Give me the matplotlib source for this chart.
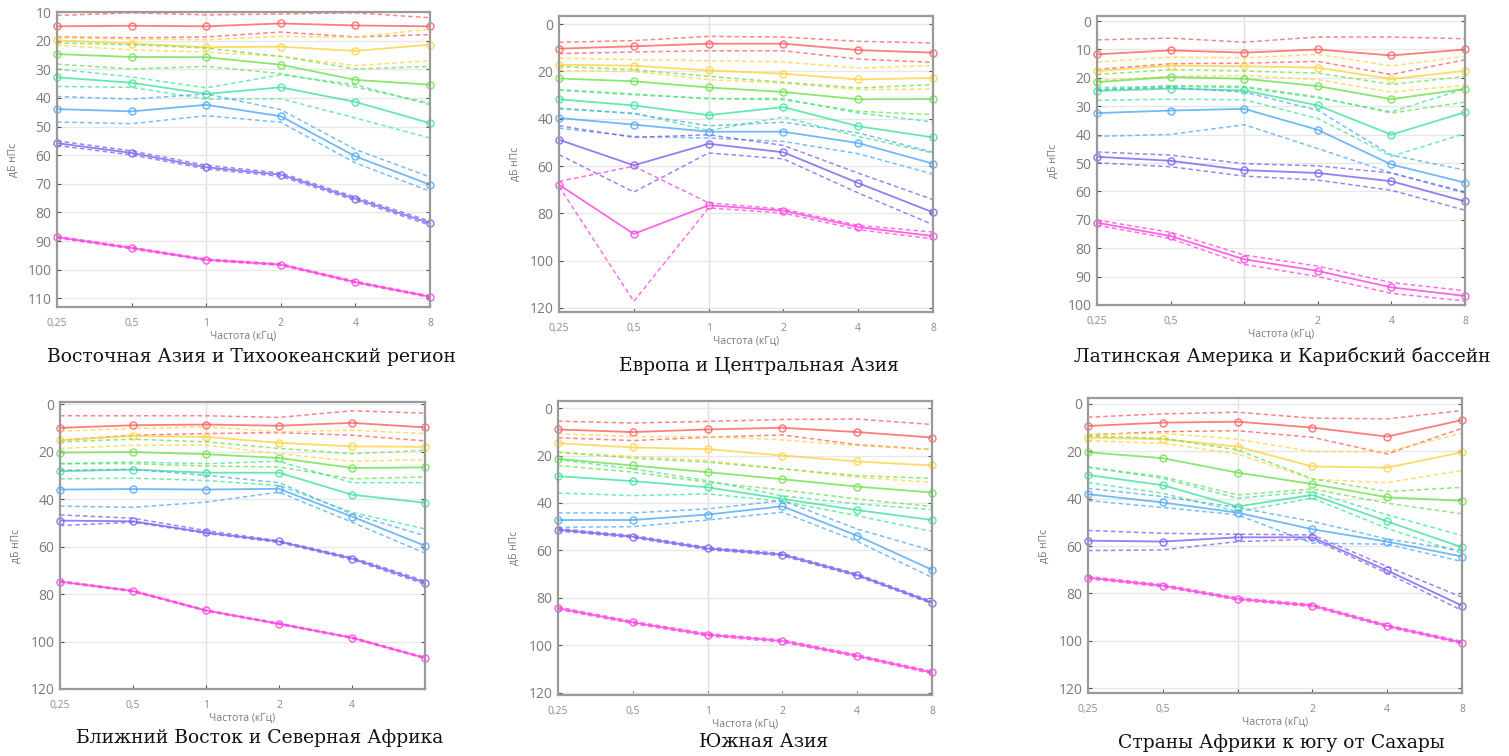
import matplotlib
matplotlib.use("Agg")
import matplotlib.pyplot as plt

freqs = [0.25, 0.5, 1, 2, 4, 8]
freq_labels = ["0,25", "0,5", "1", "2", "4", "8"]
grade_colors = ["#FF5C5C", "#FFD23F", "#6EE04B", "#3FE39A", "#4DA8F5", "#7B5CF0", "#FF40E0"]

# ---- East Asia & Pacific ----
eap_med = [[15.0, 14.8, 15.0, 14.0, 14.7, 15.0],
           [19.9, 21.0, 22.3, 22.1, 23.6, 21.4],
           [24.7, 25.7, 25.8, 28.4, 33.7, 35.4],
           [32.8, 34.7, 38.6, 36.3, 41.4, 48.8],
           [43.9, 44.7, 42.4, 46.4, 60.4, 70.3],
           [55.8, 59.2, 64.2, 66.8, 75.2, 83.7],
           [88.6, 92.4, 96.5, 98.2, 104.3, 109.4]]
eap_lo = [[11.2, 10.3, 11.0, 10.7, 10.3, 12.0],
          [19.0, 19.4, 19.7, 18.5, 18.8, 16.0],
          [20.8, 21.4, 22.6, 25.5, 29.9, 29.0],
          [29.9, 32.7, 36.5, 31.9, 35.4, 42.4],
          [39.5, 40.4, 38.6, 44.1, 58.0, 67.6],
          [55.0, 58.5, 63.5, 66.2, 74.6, 83.0],
          [88.3, 92.1, 96.2, 97.9, 104.0, 109.1]]
eap_hi = [[18.7, 19.0, 18.7, 17.0, 18.7, 17.9],
          [21.6, 23.2, 24.0, 25.5, 28.7, 27.0],
          [28.2, 29.9, 29.0, 31.5, 36.2, 41.8],
          [36.0, 36.3, 40.4, 40.3, 47.0, 54.0],
          [48.4, 49.0, 46.2, 48.5, 62.7, 72.6],
          [56.6, 59.9, 64.8, 67.4, 75.8, 84.4],
          [88.9, 92.7, 96.8, 98.5, 104.6, 109.7]]

# ---- Europe & Central Asia ----
eca_med = [[10.4, 9.4, 8.3, 8.3, 11.0, 12.1],
           [17.2, 17.6, 19.6, 21.0, 23.4, 22.8],
           [23.0, 24.2, 26.8, 28.7, 31.8, 31.7],
           [31.8, 34.4, 38.5, 35.1, 43.2, 47.9],
           [39.7, 42.5, 45.5, 45.5, 50.3, 59.0],
           [48.9, 59.7, 50.6, 54.2, 67.2, 79.6],
           [67.9, 88.7, 76.6, 78.9, 85.8, 89.6]]
eca_lo = [[7.7, 7.0, 5.2, 5.5, 7.3, 8.0],
          [14.4, 15.0, 15.5, 16.0, 18.6, 17.5],
          [17.9, 19.3, 22.1, 24.6, 27.0, 25.6],
          [28.0, 29.9, 31.5, 31.5, 37.6, 41.4],
          [35.5, 37.9, 43.0, 41.5, 46.0, 54.2],
          [43.0, 47.9, 46.8, 51.3, 63.0, 74.2],
          [66.5, 60.1, 75.6, 78.2, 85.1, 87.9]]
eca_hi = [[12.5, 11.8, 11.3, 11.3, 14.8, 16.2],
          [19.6, 20.0, 23.5, 25.0, 27.7, 27.5],
          [27.7, 29.6, 31.5, 32.0, 36.9, 38.3],
          [35.9, 37.6, 45.0, 39.3, 47.5, 54.5],
          [44.0, 47.5, 48.2, 49.6, 54.8, 63.4],
          [55.2, 71.0, 54.5, 57.0, 71.4, 84.8],
          [68.6, 117.2, 77.7, 79.9, 86.9, 90.8]]

# ---- Latin America & Caribbean ----
lac_med = [[11.7, 10.3, 11.1, 10.0, 12.1, 10.0],
           [17.6, 15.7, 15.9, 16.4, 20.4, 17.5],
           [21.5, 19.7, 20.3, 22.9, 27.5, 23.9],
           [24.6, 23.8, 24.4, 29.7, 40.0, 32.1],
           [32.4, 31.5, 30.9, 38.3, 50.5, 56.9],
           [47.8, 49.2, 52.5, 53.5, 56.4, 63.5],
           [71.0, 75.7, 83.9, 88.0, 93.8, 96.8]]
lac_lo = [[6.6, 6.0, 7.4, 5.6, 5.6, 6.2],
          [14.4, 12.7, 12.9, 11.7, 15.8, 12.4],
          [18.8, 17.1, 17.6, 18.3, 22.3, 19.5],
          [23.4, 23.0, 23.4, 27.0, 32.0, 23.8],
          [24.2, 23.4, 25.0, 31.4, 47.2, 52.5],
          [46.1, 47.2, 50.2, 51.0, 53.5, 60.5],
          [70.1, 74.4, 82.4, 86.3, 92.1, 95.0]]
lac_hi = [[17.0, 15.0, 14.8, 14.2, 18.8, 13.6],
          [20.9, 19.5, 19.1, 20.6, 25.0, 22.6],
          [24.2, 22.7, 23.0, 26.7, 32.4, 28.5],
          [27.9, 27.5, 27.7, 34.3, 47.6, 39.6],
          [40.6, 39.9, 36.5, 44.9, 53.5, 60.1],
          [49.9, 51.3, 54.6, 56.0, 59.6, 66.6],
          [71.9, 76.6, 85.7, 90.0, 95.9, 98.6]]

# ---- Middle East & North Africa ----
mena_med = [[9.9, 8.8, 8.5, 9.0, 7.8, 9.7],
            [15.1, 13.3, 13.7, 16.2, 17.7, 17.9],
            [20.3, 20.1, 21.0, 22.6, 26.8, 26.6],
            [28.2, 27.5, 28.8, 28.8, 38.1, 41.5],
            [35.9, 35.7, 35.9, 35.6, 47.3, 59.6],
            [49.0, 49.3, 54.0, 57.8, 65.0, 75.1],
            [74.7, 78.7, 86.9, 92.5, 98.4, 106.9]]
mena_lo = [[4.8, 4.8, 4.8, 5.5, 2.7, 3.7],
           [11.3, 10.2, 9.5, 11.6, 10.9, 12.3],
           [15.8, 14.7, 15.8, 18.6, 20.8, 19.4],
           [25.0, 24.3, 25.0, 24.0, 33.0, 33.0],
           [27.8, 27.4, 29.9, 33.0, 46.2, 55.4],
           [46.6, 48.0, 53.2, 57.5, 64.5, 74.4],
           [74.4, 78.4, 86.6, 92.2, 98.1, 106.6]]
mena_hi = [[15.1, 13.0, 12.3, 11.9, 13.0, 15.4],
           [18.6, 17.2, 17.2, 20.8, 24.0, 23.3],
           [25.0, 25.0, 26.0, 26.4, 31.4, 30.6],
           [31.4, 31.1, 32.1, 34.2, 45.5, 52.5],
           [42.9, 43.4, 41.2, 37.0, 49.7, 62.7],
           [51.1, 49.7, 54.4, 58.2, 65.5, 75.8],
           [75.0, 79.0, 87.2, 92.8, 98.7, 107.2]]

# ---- South Asia ----
sa_med = [[9.0, 10.1, 9.0, 8.3, 10.1, 12.4],
          [14.8, 16.6, 17.3, 20.0, 22.5, 24.2],
          [21.4, 24.2, 27.0, 30.0, 33.1, 35.6],
          [28.7, 30.8, 33.4, 38.3, 43.0, 47.2],
          [47.2, 47.2, 44.9, 41.4, 53.8, 68.2],
          [51.3, 54.2, 59.2, 61.8, 70.4, 82.0],
          [84.4, 90.4, 95.6, 98.2, 104.5, 111.5]]
sa_lo = [[5.5, 6.3, 5.6, 4.8, 4.6, 6.9],
         [10.8, 12.0, 12.0, 13.4, 15.8, 17.5],
         [18.6, 21.1, 22.8, 25.6, 28.5, 29.6],
         [21.7, 25.6, 30.6, 37.0, 40.4, 42.8],
         [44.2, 44.2, 42.5, 39.0, 51.0, 60.1],
         [50.8, 53.7, 58.7, 61.3, 69.9, 81.5],
         [83.9, 89.9, 95.1, 97.7, 104.0, 111.0]]
sa_hi = [[12.5, 13.7, 12.3, 11.3, 15.4, 17.5],
         [18.6, 20.4, 22.1, 25.6, 29.2, 31.3],
         [24.2, 27.0, 31.3, 34.5, 38.3, 41.5],
         [35.8, 36.9, 36.2, 39.3, 45.4, 52.0],
         [50.3, 50.0, 47.2, 43.9, 56.2, 71.4],
         [51.8, 54.7, 59.7, 62.3, 70.9, 82.5],
         [84.9, 90.9, 96.1, 98.7, 105.0, 112.0]]

# ---- Sub-Saharan Africa ----
ssa_med = [[9.3, 7.9, 7.5, 10.0, 13.8, 6.8],
           [14.2, 14.9, 18.0, 26.4, 26.9, 20.4],
           [20.4, 22.9, 29.0, 33.8, 39.4, 40.9],
           [30.0, 34.3, 43.3, 38.4, 49.6, 60.5],
           [38.1, 41.6, 45.9, 52.9, 58.1, 64.4],
           [57.7, 58.1, 56.3, 56.3, 70.3, 85.1],
           [73.3, 76.7, 82.3, 85.1, 93.7, 100.7]]
ssa_lo = [[5.6, 4.2, 3.5, 6.0, 6.3, 2.8],
          [12.8, 12.4, 14.9, 20.1, 20.1, 12.4],
          [13.5, 14.5, 19.4, 31.6, 37.0, 35.2],
          [26.7, 31.4, 39.8, 37.0, 46.8, 55.6],
          [35.6, 39.1, 43.7, 49.6, 57.0, 61.9],
          [53.4, 54.6, 55.0, 55.3, 68.6, 81.6],
          [72.8, 76.2, 81.8, 84.6, 93.2, 100.2]]
ssa_hi = [[13.1, 11.7, 11.3, 14.1, 21.1, 10.3],
          [15.5, 16.6, 21.1, 31.8, 33.2, 28.1],
          [26.7, 30.7, 38.4, 35.9, 41.9, 46.4],
          [33.2, 37.7, 45.4, 39.8, 52.5, 63.0],
          [40.8, 43.7, 46.8, 58.8, 59.2, 66.5],
          [61.9, 61.6, 58.1, 57.1, 71.4, 87.2],
          [73.8, 77.2, 82.8, 85.6, 94.2, 101.2]]

titles = ["Восточная Азия и Тихоокеанский регион",
          "Европа и Центральная Азия",
          "Латинская Америка и Карибский бассейн",
          "Ближний Восток и Северная Африка",
          "Южная Азия",
          "Страны Африки к югу от Сахары"]

W, H = 1509, 756
fig = plt.figure(figsize=(W / 100, H / 100), dpi=100)
fig.patch.set_facecolor("white")

# layout: (left, right, top, bottom) in pixels, ylim, yticks, hidden x tick label, title pos
panels = [
    dict(box=(57, 430, 12, 307), ylim=(113, 10), yticks=list(range(10, 111, 10)),
         data=(eap_med, eap_lo, eap_hi), hide=None, tpos=(251, 357)),
    dict(box=(559, 933, 16, 312), ylim=(121.7, -3.4), yticks=list(range(0, 121, 20)),
         data=(eca_med, eca_lo, eca_hi), hide=None, tpos=(759, 366)),
    dict(box=(1097, 1465, 16, 305), ylim=(100, -1.8), yticks=list(range(0, 101, 10)),
         data=(lac_med, lac_lo, lac_hi), hide=2, tpos=(1282, 357)),
    dict(box=(60, 425, 402, 689), ylim=(120, -1), yticks=list(range(0, 121, 20)),
         data=(mena_med, mena_lo, mena_hi), hide=5, tpos=(260, 738)),
    dict(box=(558, 932, 401, 695), ylim=(121, -3), yticks=list(range(0, 121, 20)),
         data=(sa_med, sa_lo, sa_hi), hide=None, tpos=(764, 742)),
    dict(box=(1088, 1462, 398, 693), ylim=(122, -2.5), yticks=list(range(0, 121, 20)),
         data=(ssa_med, ssa_lo, ssa_hi), hide=2, tpos=(1281, 743)),
]

tick_font = ["Open Sans", "DejaVu Sans"]

for i, p in enumerate(panels):
    l, r, t, b = p["box"]
    ax = fig.add_axes([l / W, 1 - b / H, (r - l) / W, (b - t) / H])
    ax.set_xscale("log", base=2)
    ax.set_xlim(0.25, 8)
    ax.set_ylim(*p["ylim"])
    ax.set_yticks(p["yticks"])
    ax.set_yticklabels([str(v) for v in p["yticks"]], fontsize=10, color="#7a7a7a",
                       family=tick_font)
    ax.set_xticks(freqs)
    labs = list(freq_labels)
    if p["hide"] is not None:
        labs[p["hide"]] = ""
    ax.set_xticklabels(labs, fontsize=7.5, color="#8a8a8a", family=tick_font)
    ax.minorticks_off()
    ax.tick_params(axis="both", direction="in", length=3, width=0.8, color="#555555",
                   left=True, right=True, top=False, bottom=True, pad=4)
    ax.tick_params(axis="x", pad=8)
    ax.grid(axis="y", color="#e8e8e8", linewidth=1.0)
    ax.axvline(1, color="#e0e0e0", linewidth=1.0, zorder=0)
    ax.set_axisbelow(True)
    for s in ax.spines.values():
        s.set_color("#9a9a9a")
        s.set_linewidth(1.6)
    ax.set_xlabel("Частота (кГц)", fontsize=7.5, color="#7a7a7a", family=tick_font, labelpad=1)
    ax.set_ylabel("дБ нПс", fontsize=7.5, color="#7a7a7a", family=tick_font, labelpad=6)

    med, lo, hi = p["data"]
    for g, c in enumerate(grade_colors):
        ax.plot(freqs, lo[g], color=c, lw=1.1, ls=(0, (3, 2)), alpha=0.75, clip_on=False)
        ax.plot(freqs, hi[g], color=c, lw=1.1, ls=(0, (3, 2)), alpha=0.75, clip_on=False)
        ax.plot(freqs, med[g], color=c, lw=1.3, alpha=0.8, marker="o", ms=5,
                mfc="none", mec=c, mew=1.1, clip_on=False)

    fig.text(p["tpos"][0] / W, 1 - p["tpos"][1] / H, titles[i], ha="center", va="center",
             fontsize=13.5, family=["DejaVu Serif"], color="#111111")

fig.savefig("out.png", dpi=100, facecolor="white")
